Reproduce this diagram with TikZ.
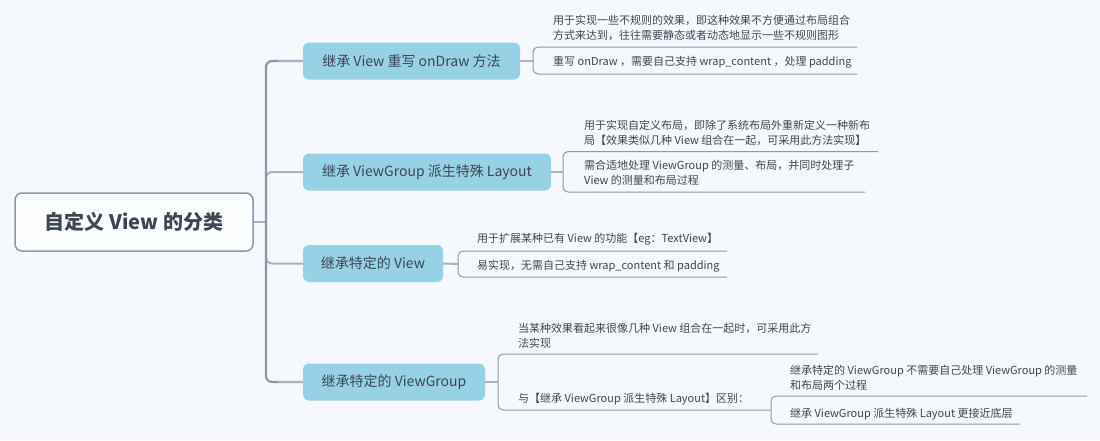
\documentclass[tikz,border=0pt]{standalone}
\usepackage{fontspec}
\setmainfont{Noto Sans CJK SC}
\definecolor{bgc}{HTML}{F5F9FD}
\definecolor{boxc}{HTML}{96D1E6}
\definecolor{txtc}{HTML}{3D4652}
\definecolor{trunkc}{HTML}{8D97A8}
\definecolor{branchc}{HTML}{A9B2C0}
\definecolor{leafc}{HTML}{8F99AA}
\tikzset{
  rootbox/.style={draw=trunkc, line width=1.5pt, fill=white!60!bgc, rounded corners=7pt,
    minimum width=238pt, minimum height=58pt, text=txtc, font=\fontsize{20}{24}\selectfont\bfseries, inner sep=0pt},
  catbox/.style={fill=boxc, rounded corners=6pt, minimum height=37pt, text=txtc,
    font=\fontsize{14}{17}\selectfont, inner sep=0pt},
  leaftext/.style={anchor=west, inner sep=0pt, align=left, text=txtc, font=\fontsize{11}{15}\selectfont},
  trunkline/.style={draw=trunkc, line width=2.2pt, rounded corners=6pt},
  branchline/.style={draw=branchc, line width=2pt},
  leafline/.style={draw=leafc, line width=1pt, rounded corners=5pt},
}
\begin{document}
\begin{tikzpicture}[x=1pt,y=-1pt]
\fill[bgc] (0,0) rectangle (1100,440);
\useasboundingbox (0,0) rectangle (1100,440);

% root
\node[rootbox] (root) at (134,222) {自定义 View 的分类};
\coordinate (tj) at (266,222);

% categories
\node[catbox, minimum width=217pt] (c1) at (411.5,61) {继承 View 重写 onDraw 方法};
\node[catbox, minimum width=248pt] (c2) at (427,172) {继承 ViewGroup 派生特殊 Layout};
\node[catbox, minimum width=140pt] (c3) at (373,263.5) {继承特定的 View};
\node[catbox, minimum width=182pt] (c4) at (394,382) {继承特定的 ViewGroup};

% trunk
\draw[branchline] (root.east) -- (tj);
\draw[branchline, rounded corners=6pt] (c2.west) -| (tj);
\draw[branchline, rounded corners=6pt] (c3.west) -| (tj);
\draw[trunkline] (c1.west) -| (tj);
\draw[trunkline] (c4.west) -| (tj);
\draw[branchline] (c1.west) -- ++(-25,0);
\draw[branchline] (c4.west) -- ++(-25,0);

% ---------- group 1
\coordinate (b1) at (533,61);
\coordinate (u1a) at (857,47);
\coordinate (u1b) at (857,74);
\node[leaftext] (l1a) at (553,27.5) {用于实现一些不规则的效果，即这种效果不方便通过布局组合\\方式来达到，往往需要静态或者动态地显示一些不规则图形};
\node[leaftext] (l1b) at (553,62) {重写 onDraw ，需要自己支持 wrap\_content ，处理 padding};
\draw[branchline] (c1.east) -- (b1);
\draw[leafline] (u1a) -- (u1a -| b1) -- (u1b -| b1) -- (u1b);

% ---------- group 2
\coordinate (b2) at (563,172);
\coordinate (u2a) at (878,151.5);
\coordinate (u2b) at (865,192);
\node[leaftext] (l2a) at (584,132.5) {用于实现自定义布局，即除了系统布局外重新定义一种新布\\局【效果类似几种 View 组合在一起，可采用此方法实现】};
\node[leaftext] (l2b) at (584,173) {需合适地处理 ViewGroup 的测量、布局，并同时处理子\\View 的测量和布局过程};
\draw[branchline] (c2.east) -- (b2);
\draw[leafline] (u2a) -- (u2a -| b2) -- (u2b -| b2) -- (u2b);

% ---------- group 3
\coordinate (b3) at (458,264);
\coordinate (u3a) at (727,251);
\coordinate (u3b) at (727,277);
\node[leaftext] (l3a) at (477,239) {用于扩展某种已有 View 的功能【eg：TextView】};
\node[leaftext] (l3b) at (477,266) {易实现，无需自己支持 wrap\_content 和 padding};
\draw[branchline] (c3.east) -- (b3);
\draw[leafline] (u3a) -- (u3a -| b3) -- (u3b -| b3) -- (u3b);

% ---------- group 4
\coordinate (b4) at (498,382);
\coordinate (u4a) at (818,354);
\coordinate (u4b) at (771,410);
\node[leaftext] (l4a) at (518,336) {当某种效果看起来很像几种 View 组合在一起时，可采用此方\\法实现};
\node[leaftext] (l4b) at (518,399) {与【继承 ViewGroup 派生特殊 Layout】区别：};
\draw[branchline] (c4.east) -- (b4);
\draw[leafline] (u4a) -- (u4a -| b4) -- (u4b -| b4) -- (u4b);

% ---------- sub-group of l4b
\coordinate (u5a) at (1087,396);
\coordinate (u5b) at (1020,424);
\node[leaftext] (l5a) at (790,377.5) {继承特定的 ViewGroup 不需要自己处理 ViewGroup 的测量\\和布局两个过程};
\node[leaftext] (l5b) at (790,414) {继承 ViewGroup 派生特殊 Layout 更接近底层};
\draw[leafline] (u5a) -- (u5a -| u4b) -- (u5b -| u4b) -- (u5b);
\end{tikzpicture}
\end{document}
